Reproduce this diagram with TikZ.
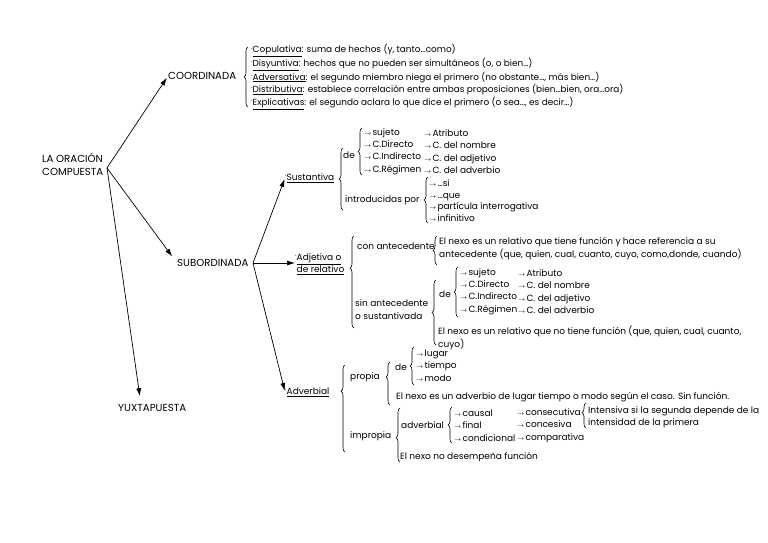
\documentclass[tikz,border=0pt]{standalone}
\usepackage{fontspec}
\setmainfont{Poppins}
\usetikzlibrary{arrows.meta,decorations.pathreplacing}

\newcommand{\flecha}{$\scriptstyle\rightarrow$\hspace{1pt}}
\newcommand{\punto}{\raisebox{1.8pt}{\scriptsize·}}

\begin{document}
\begin{tikzpicture}[
		x=1pt, y=-1pt,
		every node/.style={inner sep=0pt, anchor=west, align=left, font=\fontsize{9}{12.4}\selectfont},
		titulo/.style={font=\fontsize{10.2}{12.8}\selectfont},
		flechas/.style={-{Latex[length=8pt,width=5pt]}, line width=0.7pt},
		llave/.style={decorate, decoration={brace, amplitude=4pt, aspect=#1}, line width=0.6pt},
		llave/.default=0.5
	]
  \useasboundingbox (0,0) rectangle (768,543);

  % ramas principales
  \node (lao) [titulo] at (42,164) {LA ORACIÓN\\COMPUESTA};
  \node (coo) [titulo] at (168,76) {COORDINADA};
  \node (sub) [titulo] at (177,263) {SUBORDINADA};
  \node (yux) [titulo] at (118,408) {YUXTAPUESTA};
  \coordinate (lo) at (107,168);
  \coordinate (so) at (253,263);

  \draw[flechas, shorten >=2pt] (lo) -- (coo.west);
  \draw[flechas, shorten >=8pt] (lo) -- (sub.west);
  \draw[flechas, shorten >=8pt] (lo) -- ([xshift=23pt]yux.north west);

  % coordinadas
  \draw[llave] (248,107) -- (248,47);
  \node (coolista) [font=\fontsize{8.9}{12.5}\selectfont] at (251,77) {\punto\underline{Copulativa}: suma de hechos (y, tanto…como)\\
    \punto\underline{Disyuntiva}: hechos que no pueden ser simultáneos (o, o bien…)\\
    \punto\underline{Adversativa}: el segundo miembro niega el primero (no obstante…, más bien…)\\
    \punto\underline{Distributiva}: establece correlación entre ambas proposiciones (bien…bien, ora…ora)\\
    \punto\underline{Explicativas}: el segundo aclara lo que dice el primero (o sea…, es decir…)};

  % sustantiva
  \node (sus) at (285,178) {\punto\underline{Sustantiva}};
  \draw[llave] (343,210) -- (343,148);
  \node (susde) at (343,155) {de};
  \draw[llave] (362,175) -- (362,128);
  \node (susde1) at (364,151.5) {\flecha sujeto\\\flecha C.Directo\\\flecha C.Indirecto\\\flecha C.Régimen};
  \node (susde2) at (424,151.5) {\flecha Atributo\\\flecha C. del nombre\\\flecha C. del adjetivo\\\flecha C. del adverbio};
  \node (susint) at (345,200) {introducidas por};
  \draw[llave] (428,223) -- (428,177);
  \node (susint1) [font=\fontsize{9}{11.7}\selectfont] at (429,200.5) {\flecha…si\\\flecha…que\\\flecha partícula interrogativa\\\flecha infinitivo};

  % adjetiva
  \node (adj) [font=\fontsize{9}{11}\selectfont] at (295,264.5) {\punto\underline{Adjetiva o}\\\hphantom{\punto}\underline{de relativo}};
  \draw[llave=0.65] (354,328) -- (354,236);
  \node (con) at (357,246) {con antecedente};
  \draw[llave] (437,265) -- (437,236);
  \node (con1) [font=\fontsize{9}{13}\selectfont] at (439,248.5) {El nexo es un relativo que tiene función y hace referencia a su\\antecedente (que, quien, cual, cuanto, cuyo, como,donde, cuando)};
  \node (sin) [font=\fontsize{9}{13}\selectfont] at (355,309.5) {sin antecedente\\o sustantivada};
  \draw[llave] (436,345) -- (436,280);
  \node (sinde) at (439,294) {de};
  \draw[llave] (458,317) -- (458,267);
  \node (sinde1) at (460,291.5) {\flecha sujeto\\\flecha C.Directo\\\flecha C.Indirecto\\\flecha C.Régimen};
  \node (sinde2) at (518,291.5) {\flecha Atributo\\\flecha C. del nombre\\\flecha C. del adjetivo\\\flecha C. del adverbio};
  \node (sinno) at (438,338) {El nexo es un relativo que no tiene función (que, quien, cual, cuanto,\\cuyo)};

  % adverbial
  \node (adv) at (285,392) {\punto\underline{Adverbial}};
  \draw[llave=0.7] (345,452) -- (345,365);
  \node (pro) at (350,377) {propia};
  \draw[llave=0.65] (390,405) -- (390,362);
  \node (prode) at (395,367) {de};
  \draw[llave] (414,385) -- (414,347);
  \node (prode1) at (416,365.5) {\flecha lugar\\\flecha tiempo\\\flecha modo};
  \node (prono) at (396,397) {El nexo es un adverbio de lugar tiempo o modo según el caso. Sin función.};
  \node (imp) at (350,436) {impropia};
  \draw[llave=0.45] (400,462) -- (400,408);
  \node (impadv) at (401,425) {adverbial};
  \draw[llave] (452,443) -- (452,407);
  \node (impadv1) at (454,425.5) {\flecha causal\\\flecha final\\\flecha condicional};
  \node (impadv2) at (517,425.5) {\flecha consecutiva\\\flecha concesiva\\\flecha comparativa};
  \draw[llave=0.62] (586,428) -- (586,403);
  \node (intens) at (588,417) {Intensiva si la segunda depende de la\\intensidad de la primera};
  \node (impno) at (400,457) {El nexo no desempeña función};

  \draw[flechas, shorten >=1pt] (so) -- (sus.west);
  \draw[flechas] (so) -- (so -| adj.west);
  \draw[flechas, shorten >=1pt] (so) -- (adv.west);
\end{tikzpicture}
\end{document}
